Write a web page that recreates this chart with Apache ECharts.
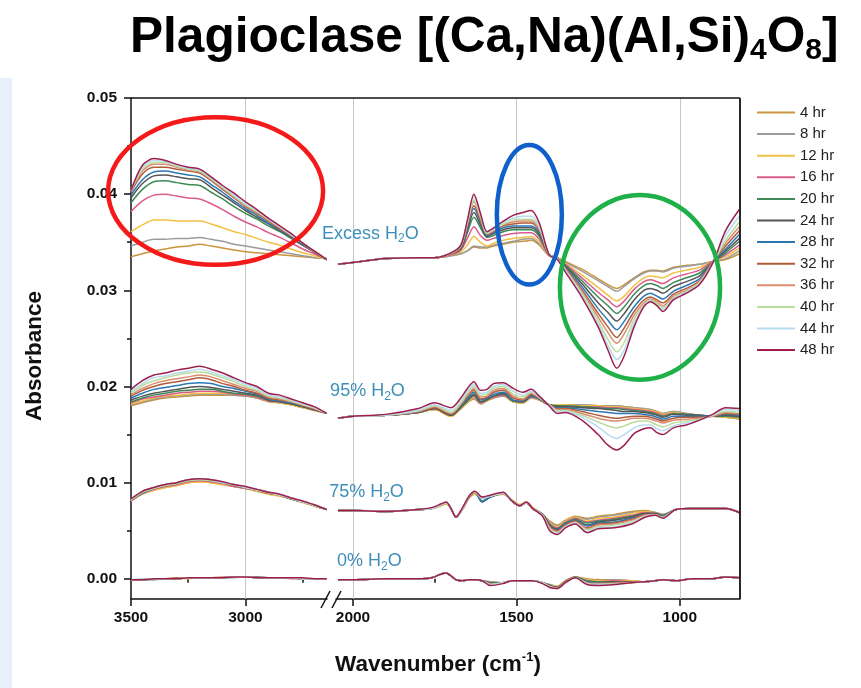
<!DOCTYPE html>
<html><head><meta charset="utf-8">
<script src="https://cdn.jsdelivr.net/npm/echarts@6/dist/echarts.min.js"></script>
<style>html,body{margin:0;padding:0;background:#fff}#c{width:861px;height:688px}</style>
</head><body><div id="c"></div>
<script>
// ---------- DATA ----------
const HOURS = ['4 hr','8 hr','12 hr','16 hr','20 hr','24 hr','28 hr','32 hr','36 hr','40 hr','44 hr','48 hr'];
const X_L = [3500,3450,3400,3350,3300,3250,3200,3150,3100,3050,3000,2950,2900,2850,2800,2750,2700,2645];
const X_R = [2046,2000,1900,1800,1750,1700,1670,1650,1630,1610,1590,1570,1540,1510,1480,1455,1430,1400,1375,1350,1300,1250,1220,1193,1170,1140,1110,1090,1070,1052,1020,980,940,900,860,818];
const X_R2 = [2046,2000,1900,1800,1760,1730,1715,1700,1685,1665,1645,1627,1605,1580,1541,1514,1490,1470,1450,1420,1398,1375,1350,1320,1284,1250,1200,1147,1107,1075,1052,1012,960,900,860,818];
const X_TICKS_L = [3500, 3000];
const X_MINOR_L = [3250, 2750];
const X_TICKS_R = [2000, 1500, 1000];
const X_MINOR_R = [1750, 1250];
const Y_TICKS = [0, 0.01, 0.02, 0.03, 0.04, 0.05];
const Y_MINOR = [0.005, 0.015, 0.025, 0.035, 0.045];
const GRIDLINES_L = [3000];
const GRIDLINES_R = [2000, 1500, 1000];

const EXCESS_L = [
[0.0335,0.0338,0.0341,0.0343,0.0345,0.0346,0.0348,0.0346,0.0344,0.0342,0.0340,0.0339,0.0338,0.0337,0.0336,0.0335,0.0334,0.0333],
[0.0346,0.0350,0.0353,0.0353,0.0354,0.0354,0.0355,0.0353,0.0351,0.0348,0.0346,0.0344,0.0342,0.0340,0.0338,0.0336,0.0334,0.0333],
[0.0361,0.0368,0.0373,0.0373,0.0372,0.0372,0.0372,0.0369,0.0365,0.0361,0.0358,0.0354,0.0350,0.0347,0.0343,0.0339,0.0336,0.0332],
[0.0382,0.0393,0.0399,0.0400,0.0398,0.0396,0.0395,0.0390,0.0384,0.0377,0.0371,0.0366,0.0360,0.0355,0.0349,0.0343,0.0338,0.0332],
[0.0391,0.0405,0.0413,0.0414,0.0412,0.0410,0.0409,0.0402,0.0395,0.0387,0.0380,0.0374,0.0367,0.0361,0.0354,0.0347,0.0340,0.0332],
[0.0396,0.0411,0.0419,0.0420,0.0418,0.0416,0.0415,0.0407,0.0399,0.0391,0.0383,0.0376,0.0369,0.0362,0.0355,0.0347,0.0340,0.0332],
[0.0399,0.0415,0.0423,0.0424,0.0422,0.0420,0.0418,0.0410,0.0402,0.0393,0.0385,0.0378,0.0370,0.0363,0.0356,0.0348,0.0340,0.0332],
[0.0402,0.0421,0.0428,0.0428,0.0426,0.0424,0.0422,0.0414,0.0405,0.0396,0.0387,0.0380,0.0372,0.0364,0.0357,0.0349,0.0340,0.0332],
[0.0403,0.0424,0.0431,0.0431,0.0428,0.0425,0.0423,0.0415,0.0406,0.0397,0.0388,0.0381,0.0373,0.0365,0.0357,0.0349,0.0341,0.0332],
[0.0404,0.0426,0.0433,0.0433,0.0429,0.0426,0.0424,0.0416,0.0407,0.0398,0.0389,0.0382,0.0374,0.0366,0.0358,0.0349,0.0341,0.0332],
[0.0404,0.0428,0.0435,0.0434,0.0430,0.0427,0.0425,0.0417,0.0408,0.0399,0.0390,0.0383,0.0374,0.0366,0.0358,0.0349,0.0341,0.0332],
[0.0404,0.0430,0.0437,0.0435,0.0431,0.0428,0.0426,0.0418,0.0409,0.0401,0.0392,0.0384,0.0375,0.0367,0.0359,0.0349,0.0341,0.0332]
];
const EXCESS_R = [
[0.0327,0.0329,0.0333,0.0334,0.0334,0.0336,0.0338,0.0341,0.0345,0.0344,0.0344,0.0346,0.0348,0.0350,0.0351,0.0352,0.0347,0.0336,0.0334,0.0330,0.0322,0.0312,0.0306,0.0302,0.0306,0.0313,0.0319,0.0321,0.0321,0.0320,0.0324,0.0326,0.0327,0.0330,0.0332,0.0338],
[0.0327,0.0329,0.0333,0.0334,0.0334,0.0336,0.0338,0.0341,0.0346,0.0345,0.0345,0.0347,0.0349,0.0351,0.0353,0.0354,0.0348,0.0336,0.0334,0.0329,0.0320,0.0310,0.0304,0.0299,0.0304,0.0312,0.0318,0.0320,0.0320,0.0319,0.0323,0.0325,0.0327,0.0330,0.0333,0.0341],
[0.0327,0.0329,0.0333,0.0334,0.0334,0.0337,0.0340,0.0347,0.0356,0.0350,0.0346,0.0349,0.0352,0.0354,0.0355,0.0356,0.0350,0.0336,0.0334,0.0328,0.0316,0.0303,0.0295,0.0289,0.0294,0.0305,0.0313,0.0315,0.0314,0.0313,0.0318,0.0321,0.0324,0.0330,0.0335,0.0344],
[0.0327,0.0329,0.0333,0.0334,0.0334,0.0337,0.0342,0.0354,0.0366,0.0357,0.0352,0.0354,0.0357,0.0359,0.0360,0.0360,0.0353,0.0336,0.0333,0.0327,0.0313,0.0298,0.0290,0.0283,0.0289,0.0301,0.0309,0.0311,0.0309,0.0307,0.0313,0.0317,0.0321,0.0330,0.0337,0.0347],
[0.0327,0.0329,0.0333,0.0334,0.0334,0.0338,0.0343,0.0360,0.0376,0.0365,0.0355,0.0357,0.0361,0.0363,0.0363,0.0363,0.0356,0.0337,0.0333,0.0326,0.0310,0.0293,0.0284,0.0276,0.0283,0.0296,0.0305,0.0307,0.0305,0.0302,0.0308,0.0313,0.0318,0.0329,0.0339,0.0351],
[0.0327,0.0329,0.0333,0.0334,0.0334,0.0338,0.0344,0.0363,0.0381,0.0368,0.0356,0.0359,0.0363,0.0365,0.0365,0.0365,0.0358,0.0337,0.0333,0.0325,0.0307,0.0287,0.0277,0.0268,0.0276,0.0290,0.0300,0.0302,0.0300,0.0297,0.0304,0.0309,0.0315,0.0329,0.0341,0.0354],
[0.0327,0.0329,0.0333,0.0334,0.0334,0.0338,0.0345,0.0366,0.0385,0.0371,0.0357,0.0360,0.0365,0.0367,0.0367,0.0367,0.0360,0.0337,0.0333,0.0324,0.0304,0.0281,0.0269,0.0259,0.0268,0.0283,0.0294,0.0297,0.0294,0.0291,0.0299,0.0305,0.0312,0.0329,0.0343,0.0358],
[0.0327,0.0329,0.0333,0.0334,0.0334,0.0338,0.0345,0.0368,0.0388,0.0373,0.0358,0.0361,0.0367,0.0369,0.0370,0.0370,0.0362,0.0337,0.0333,0.0323,0.0301,0.0276,0.0262,0.0251,0.0261,0.0278,0.0290,0.0293,0.0290,0.0287,0.0296,0.0302,0.0310,0.0329,0.0346,0.0362],
[0.0327,0.0329,0.0333,0.0334,0.0334,0.0338,0.0346,0.0369,0.0392,0.0375,0.0359,0.0362,0.0368,0.0371,0.0372,0.0372,0.0364,0.0337,0.0333,0.0322,0.0299,0.0272,0.0256,0.0245,0.0255,0.0274,0.0287,0.0291,0.0288,0.0284,0.0294,0.0300,0.0309,0.0329,0.0349,0.0366],
[0.0327,0.0329,0.0333,0.0334,0.0334,0.0339,0.0346,0.0370,0.0394,0.0377,0.0359,0.0363,0.0369,0.0373,0.0374,0.0374,0.0365,0.0337,0.0333,0.0321,0.0297,0.0268,0.0249,0.0236,0.0246,0.0270,0.0285,0.0290,0.0286,0.0282,0.0292,0.0299,0.0308,0.0328,0.0352,0.0371],
[0.0327,0.0329,0.0333,0.0334,0.0334,0.0339,0.0347,0.0372,0.0397,0.0379,0.0360,0.0364,0.0371,0.0375,0.0377,0.0377,0.0367,0.0337,0.0332,0.0320,0.0295,0.0265,0.0243,0.0228,0.0238,0.0266,0.0284,0.0289,0.0284,0.0280,0.0291,0.0298,0.0307,0.0328,0.0357,0.0377],
[0.0327,0.0329,0.0333,0.0334,0.0334,0.0339,0.0347,0.0373,0.0400,0.0380,0.0361,0.0365,0.0372,0.0378,0.0381,0.0383,0.0370,0.0337,0.0332,0.0319,0.0293,0.0262,0.0238,0.0219,0.0232,0.0262,0.0283,0.0288,0.0284,0.0278,0.0290,0.0297,0.0306,0.0328,0.0362,0.0384]
];
const P95_L = [
[0.0180,0.0183,0.0186,0.0188,0.0189,0.0190,0.0191,0.0191,0.0191,0.0191,0.0190,0.0188,0.0184,0.0183,0.0181,0.0178,0.0175,0.0172],
[0.0181,0.0184,0.0187,0.0189,0.0190,0.0191,0.0192,0.0192,0.0192,0.0191,0.0190,0.0188,0.0185,0.0183,0.0181,0.0178,0.0176,0.0172],
[0.0182,0.0185,0.0188,0.0190,0.0191,0.0192,0.0193,0.0193,0.0193,0.0192,0.0191,0.0189,0.0185,0.0183,0.0181,0.0178,0.0176,0.0172],
[0.0183,0.0187,0.0189,0.0191,0.0193,0.0194,0.0195,0.0195,0.0194,0.0192,0.0191,0.0189,0.0185,0.0184,0.0182,0.0179,0.0176,0.0172],
[0.0184,0.0188,0.0191,0.0193,0.0195,0.0196,0.0197,0.0197,0.0195,0.0193,0.0192,0.0190,0.0186,0.0184,0.0182,0.0179,0.0176,0.0172],
[0.0186,0.0190,0.0193,0.0195,0.0197,0.0199,0.0200,0.0199,0.0197,0.0195,0.0193,0.0191,0.0186,0.0184,0.0182,0.0179,0.0176,0.0172],
[0.0188,0.0193,0.0197,0.0199,0.0201,0.0203,0.0204,0.0203,0.0200,0.0198,0.0195,0.0192,0.0187,0.0185,0.0183,0.0180,0.0177,0.0172],
[0.0190,0.0196,0.0200,0.0203,0.0205,0.0207,0.0209,0.0207,0.0203,0.0200,0.0196,0.0193,0.0188,0.0186,0.0184,0.0180,0.0177,0.0172],
[0.0191,0.0198,0.0203,0.0206,0.0208,0.0210,0.0212,0.0210,0.0206,0.0202,0.0198,0.0195,0.0189,0.0187,0.0184,0.0181,0.0177,0.0172],
[0.0193,0.0201,0.0206,0.0209,0.0212,0.0214,0.0215,0.0213,0.0209,0.0205,0.0200,0.0196,0.0190,0.0188,0.0185,0.0181,0.0178,0.0172],
[0.0195,0.0203,0.0209,0.0211,0.0214,0.0216,0.0218,0.0215,0.0211,0.0207,0.0202,0.0198,0.0191,0.0189,0.0186,0.0182,0.0178,0.0172],
[0.0197,0.0206,0.0212,0.0214,0.0217,0.0219,0.0221,0.0218,0.0214,0.0209,0.0204,0.0200,0.0193,0.0191,0.0187,0.0183,0.0179,0.0172]
];
const P95_R = [
[0.0167,0.0169,0.0170,0.0173,0.0176,0.0169,0.0177,0.0183,0.0187,0.0182,0.0185,0.0188,0.0190,0.0184,0.0183,0.0188,0.0186,0.0181,0.0181,0.0181,0.0181,0.0180,0.0180,0.0180,0.0179,0.0178,0.0177,0.0176,0.0174,0.0172,0.0174,0.0172,0.0170,0.0169,0.0168,0.0166],
[0.0167,0.0169,0.0170,0.0173,0.0176,0.0169,0.0177,0.0184,0.0188,0.0182,0.0185,0.0188,0.0190,0.0184,0.0183,0.0188,0.0186,0.0181,0.0181,0.0181,0.0181,0.0180,0.0180,0.0180,0.0179,0.0178,0.0177,0.0176,0.0173,0.0172,0.0174,0.0172,0.0170,0.0169,0.0168,0.0167],
[0.0167,0.0169,0.0170,0.0173,0.0176,0.0169,0.0177,0.0184,0.0189,0.0183,0.0185,0.0189,0.0191,0.0184,0.0183,0.0189,0.0186,0.0181,0.0181,0.0181,0.0180,0.0180,0.0179,0.0179,0.0178,0.0177,0.0176,0.0175,0.0173,0.0171,0.0173,0.0171,0.0170,0.0169,0.0168,0.0167],
[0.0167,0.0169,0.0170,0.0173,0.0177,0.0170,0.0178,0.0185,0.0190,0.0183,0.0186,0.0189,0.0191,0.0185,0.0184,0.0189,0.0187,0.0181,0.0180,0.0180,0.0179,0.0179,0.0178,0.0178,0.0177,0.0176,0.0175,0.0174,0.0172,0.0170,0.0172,0.0171,0.0170,0.0169,0.0169,0.0168],
[0.0167,0.0169,0.0170,0.0173,0.0177,0.0170,0.0178,0.0185,0.0191,0.0184,0.0186,0.0190,0.0192,0.0185,0.0184,0.0190,0.0187,0.0181,0.0180,0.0180,0.0179,0.0178,0.0177,0.0177,0.0176,0.0175,0.0174,0.0173,0.0171,0.0169,0.0172,0.0171,0.0170,0.0169,0.0169,0.0168],
[0.0167,0.0169,0.0170,0.0173,0.0177,0.0170,0.0179,0.0186,0.0192,0.0184,0.0187,0.0190,0.0193,0.0185,0.0184,0.0190,0.0187,0.0181,0.0179,0.0179,0.0178,0.0177,0.0176,0.0175,0.0174,0.0174,0.0173,0.0172,0.0170,0.0168,0.0171,0.0170,0.0170,0.0169,0.0170,0.0169],
[0.0167,0.0169,0.0170,0.0174,0.0178,0.0171,0.0180,0.0188,0.0194,0.0186,0.0188,0.0192,0.0194,0.0186,0.0185,0.0191,0.0187,0.0181,0.0178,0.0178,0.0176,0.0174,0.0173,0.0172,0.0172,0.0172,0.0171,0.0170,0.0168,0.0166,0.0169,0.0169,0.0169,0.0169,0.0171,0.0170],
[0.0167,0.0169,0.0170,0.0174,0.0178,0.0171,0.0181,0.0190,0.0196,0.0187,0.0189,0.0194,0.0196,0.0188,0.0186,0.0192,0.0188,0.0181,0.0177,0.0177,0.0174,0.0170,0.0168,0.0167,0.0168,0.0169,0.0169,0.0168,0.0166,0.0164,0.0167,0.0168,0.0168,0.0169,0.0172,0.0171],
[0.0167,0.0169,0.0170,0.0174,0.0179,0.0172,0.0182,0.0191,0.0198,0.0189,0.0190,0.0196,0.0198,0.0190,0.0187,0.0193,0.0188,0.0181,0.0176,0.0176,0.0172,0.0167,0.0165,0.0164,0.0165,0.0167,0.0167,0.0166,0.0164,0.0162,0.0165,0.0166,0.0167,0.0169,0.0173,0.0172],
[0.0167,0.0169,0.0170,0.0175,0.0180,0.0173,0.0183,0.0193,0.0200,0.0191,0.0192,0.0198,0.0200,0.0192,0.0189,0.0194,0.0189,0.0181,0.0175,0.0175,0.0170,0.0163,0.0159,0.0157,0.0159,0.0163,0.0164,0.0163,0.0160,0.0158,0.0162,0.0164,0.0166,0.0170,0.0174,0.0173],
[0.0167,0.0169,0.0170,0.0175,0.0181,0.0175,0.0185,0.0195,0.0202,0.0193,0.0194,0.0200,0.0202,0.0195,0.0191,0.0195,0.0189,0.0181,0.0174,0.0174,0.0168,0.0158,0.0150,0.0146,0.0150,0.0157,0.0160,0.0160,0.0156,0.0154,0.0159,0.0162,0.0165,0.0170,0.0176,0.0175],
[0.0167,0.0169,0.0171,0.0177,0.0183,0.0178,0.0188,0.0198,0.0205,0.0196,0.0197,0.0203,0.0204,0.0198,0.0194,0.0197,0.0190,0.0180,0.0172,0.0173,0.0165,0.0150,0.0139,0.0134,0.0139,0.0151,0.0156,0.0157,0.0152,0.0150,0.0157,0.0160,0.0165,0.0171,0.0178,0.0177]
];
const P75_L = [
[0.0081,0.0088,0.0092,0.0095,0.0097,0.0100,0.0101,0.0100,0.0098,0.0096,0.0094,0.0091,0.0089,0.0086,0.0083,0.0080,0.0076,0.0072],
[0.0081,0.0089,0.0093,0.0096,0.0098,0.0101,0.0102,0.0101,0.0099,0.0096,0.0094,0.0092,0.0089,0.0087,0.0083,0.0080,0.0076,0.0072],
[0.0081,0.0088,0.0092,0.0095,0.0097,0.0100,0.0101,0.0100,0.0098,0.0096,0.0094,0.0091,0.0088,0.0086,0.0083,0.0079,0.0076,0.0072],
[0.0081,0.0089,0.0093,0.0096,0.0098,0.0101,0.0102,0.0101,0.0099,0.0096,0.0094,0.0092,0.0089,0.0087,0.0083,0.0080,0.0076,0.0072],
[0.0082,0.0090,0.0094,0.0097,0.0099,0.0102,0.0103,0.0102,0.0100,0.0097,0.0095,0.0092,0.0089,0.0087,0.0083,0.0080,0.0076,0.0072],
[0.0082,0.0090,0.0094,0.0097,0.0099,0.0102,0.0103,0.0102,0.0100,0.0097,0.0095,0.0092,0.0089,0.0087,0.0083,0.0080,0.0076,0.0072],
[0.0082,0.0089,0.0094,0.0097,0.0099,0.0102,0.0103,0.0102,0.0100,0.0097,0.0095,0.0092,0.0090,0.0087,0.0083,0.0080,0.0076,0.0072],
[0.0083,0.0091,0.0095,0.0098,0.0100,0.0103,0.0104,0.0103,0.0100,0.0098,0.0095,0.0093,0.0090,0.0087,0.0084,0.0080,0.0077,0.0072],
[0.0082,0.0090,0.0094,0.0097,0.0099,0.0102,0.0103,0.0102,0.0100,0.0097,0.0095,0.0092,0.0089,0.0087,0.0083,0.0080,0.0076,0.0072],
[0.0082,0.0090,0.0094,0.0097,0.0099,0.0102,0.0103,0.0102,0.0100,0.0098,0.0095,0.0092,0.0090,0.0087,0.0084,0.0080,0.0076,0.0072],
[0.0083,0.0091,0.0095,0.0098,0.0100,0.0103,0.0104,0.0103,0.0100,0.0098,0.0095,0.0093,0.0090,0.0087,0.0084,0.0080,0.0077,0.0072],
[0.0083,0.0091,0.0095,0.0098,0.0100,0.0103,0.0104,0.0103,0.0101,0.0098,0.0096,0.0093,0.0090,0.0088,0.0084,0.0081,0.0077,0.0072]
];
const P75_R = [
[0.0071,0.0071,0.0070,0.0072,0.0073,0.0076,0.0078,0.0073,0.0065,0.0072,0.0084,0.0088,0.0085,0.0086,0.0088,0.0082,0.0077,0.0080,0.0074,0.0067,0.0060,0.0056,0.0061,0.0065,0.0063,0.0065,0.0067,0.0070,0.0071,0.0069,0.0067,0.0072,0.0073,0.0073,0.0073,0.0069],
[0.0071,0.0071,0.0070,0.0072,0.0073,0.0077,0.0079,0.0073,0.0064,0.0073,0.0085,0.0089,0.0085,0.0086,0.0089,0.0081,0.0076,0.0079,0.0073,0.0067,0.0059,0.0055,0.0060,0.0064,0.0062,0.0064,0.0066,0.0069,0.0070,0.0069,0.0067,0.0072,0.0073,0.0073,0.0073,0.0069],
[0.0071,0.0071,0.0070,0.0072,0.0073,0.0076,0.0078,0.0073,0.0065,0.0072,0.0084,0.0088,0.0085,0.0086,0.0088,0.0082,0.0077,0.0080,0.0074,0.0067,0.0058,0.0054,0.0060,0.0064,0.0060,0.0063,0.0064,0.0068,0.0070,0.0068,0.0066,0.0072,0.0073,0.0073,0.0073,0.0069],
[0.0071,0.0071,0.0070,0.0072,0.0073,0.0077,0.0079,0.0073,0.0064,0.0073,0.0085,0.0090,0.0084,0.0086,0.0089,0.0081,0.0076,0.0079,0.0073,0.0067,0.0057,0.0053,0.0059,0.0063,0.0059,0.0061,0.0063,0.0066,0.0069,0.0068,0.0066,0.0072,0.0073,0.0073,0.0073,0.0069],
[0.0071,0.0071,0.0070,0.0072,0.0073,0.0077,0.0079,0.0073,0.0064,0.0073,0.0085,0.0090,0.0081,0.0085,0.0089,0.0081,0.0076,0.0079,0.0073,0.0067,0.0056,0.0052,0.0058,0.0062,0.0058,0.0060,0.0062,0.0065,0.0068,0.0068,0.0066,0.0072,0.0073,0.0073,0.0073,0.0069],
[0.0071,0.0071,0.0070,0.0072,0.0073,0.0077,0.0079,0.0073,0.0064,0.0073,0.0085,0.0090,0.0080,0.0085,0.0089,0.0081,0.0076,0.0079,0.0073,0.0067,0.0056,0.0052,0.0057,0.0061,0.0056,0.0059,0.0061,0.0064,0.0068,0.0068,0.0065,0.0072,0.0073,0.0073,0.0073,0.0069],
[0.0071,0.0071,0.0070,0.0072,0.0073,0.0077,0.0079,0.0073,0.0064,0.0073,0.0085,0.0090,0.0080,0.0085,0.0089,0.0081,0.0076,0.0079,0.0073,0.0066,0.0055,0.0051,0.0057,0.0061,0.0055,0.0058,0.0059,0.0063,0.0067,0.0067,0.0065,0.0072,0.0073,0.0073,0.0073,0.0069],
[0.0071,0.0071,0.0070,0.0072,0.0073,0.0077,0.0079,0.0073,0.0064,0.0073,0.0086,0.0090,0.0084,0.0086,0.0089,0.0081,0.0076,0.0079,0.0073,0.0066,0.0054,0.0050,0.0056,0.0060,0.0053,0.0057,0.0058,0.0062,0.0067,0.0067,0.0064,0.0072,0.0073,0.0073,0.0073,0.0069],
[0.0071,0.0071,0.0070,0.0072,0.0073,0.0077,0.0079,0.0073,0.0064,0.0073,0.0085,0.0090,0.0084,0.0086,0.0089,0.0081,0.0076,0.0079,0.0073,0.0066,0.0053,0.0049,0.0055,0.0059,0.0052,0.0056,0.0057,0.0061,0.0066,0.0067,0.0064,0.0072,0.0073,0.0073,0.0073,0.0069],
[0.0071,0.0071,0.0070,0.0072,0.0073,0.0077,0.0079,0.0073,0.0064,0.0073,0.0086,0.0090,0.0084,0.0086,0.0089,0.0081,0.0076,0.0079,0.0073,0.0066,0.0052,0.0048,0.0054,0.0058,0.0051,0.0054,0.0056,0.0059,0.0065,0.0066,0.0064,0.0072,0.0073,0.0073,0.0073,0.0069],
[0.0071,0.0071,0.0070,0.0072,0.0073,0.0077,0.0079,0.0073,0.0064,0.0073,0.0086,0.0091,0.0084,0.0086,0.0089,0.0081,0.0076,0.0079,0.0073,0.0066,0.0051,0.0047,0.0054,0.0058,0.0049,0.0053,0.0054,0.0058,0.0065,0.0066,0.0063,0.0072,0.0073,0.0073,0.0073,0.0069],
[0.0071,0.0071,0.0070,0.0072,0.0074,0.0078,0.0080,0.0073,0.0064,0.0074,0.0086,0.0091,0.0085,0.0087,0.0090,0.0081,0.0076,0.0080,0.0073,0.0065,0.0050,0.0046,0.0053,0.0057,0.0048,0.0052,0.0053,0.0057,0.0064,0.0066,0.0063,0.0072,0.0073,0.0073,0.0073,0.0069]
];
const P0_L = [
[-0.0001,-0.0001,0.0000,0.0000,0.0000,0.0001,0.0001,0.0001,0.0001,0.0002,0.0002,0.0001,0.0001,0.0001,0.0001,0.0000,0.0000,0.0000],
[-0.0001,-0.0001,0.0000,0.0000,0.0000,0.0001,0.0001,0.0001,0.0001,0.0001,0.0002,0.0001,0.0001,0.0001,0.0001,0.0000,0.0000,0.0000],
[-0.0001,-0.0001,0.0000,0.0000,0.0000,0.0000,0.0001,0.0001,0.0001,0.0002,0.0002,0.0001,0.0001,0.0001,0.0001,0.0000,0.0000,0.0000],
[-0.0001,-0.0001,0.0000,0.0000,0.0000,0.0001,0.0001,0.0001,0.0001,0.0002,0.0002,0.0001,0.0001,0.0001,0.0000,0.0000,0.0000,0.0000],
[-0.0001,-0.0001,-0.0001,0.0000,0.0000,0.0001,0.0001,0.0001,0.0001,0.0002,0.0002,0.0001,0.0001,0.0001,0.0001,0.0000,0.0000,0.0000],
[-0.0001,-0.0001,0.0000,0.0000,0.0000,0.0001,0.0001,0.0001,0.0001,0.0002,0.0002,0.0002,0.0001,0.0001,0.0001,0.0000,0.0000,0.0000],
[-0.0001,-0.0001,0.0000,0.0000,0.0000,0.0001,0.0001,0.0001,0.0001,0.0002,0.0002,0.0001,0.0001,0.0001,0.0001,0.0000,0.0000,0.0000],
[-0.0001,-0.0001,0.0000,0.0000,0.0001,0.0001,0.0001,0.0001,0.0001,0.0002,0.0002,0.0001,0.0001,0.0001,0.0001,0.0000,0.0000,0.0000],
[-0.0001,-0.0001,0.0000,0.0000,0.0000,0.0001,0.0001,0.0001,0.0002,0.0002,0.0002,0.0001,0.0001,0.0001,0.0001,0.0000,0.0000,0.0000],
[-0.0001,-0.0001,0.0000,0.0000,0.0000,0.0001,0.0001,0.0001,0.0001,0.0002,0.0002,0.0001,0.0001,0.0001,0.0001,0.0000,0.0000,0.0000],
[-0.0001,0.0000,0.0000,0.0000,0.0000,0.0001,0.0001,0.0001,0.0001,0.0002,0.0002,0.0001,0.0001,0.0001,0.0001,0.0000,0.0000,0.0000],
[-0.0001,-0.0001,0.0000,0.0000,0.0000,0.0001,0.0001,0.0001,0.0001,0.0002,0.0002,0.0001,0.0001,0.0001,0.0001,0.0001,0.0000,0.0000]
];
const P0_R = [
[-0.0001,-0.0001,0.0000,0.0000,0.0001,0.0005,0.0006,0.0003,-0.0001,-0.0002,-0.0001,-0.0001,-0.0002,-0.0003,-0.0004,-0.0002,-0.0002,-0.0002,-0.0002,-0.0004,-0.0006,-0.0008,-0.0002,0.0002,0.0000,-0.0001,-0.0001,-0.0002,-0.0003,-0.0002,-0.0001,-0.0002,0.0000,0.0000,0.0002,0.0001],
[-0.0001,-0.0001,0.0000,0.0000,0.0001,0.0005,0.0006,0.0003,-0.0001,-0.0002,-0.0001,-0.0001,-0.0002,-0.0003,-0.0004,-0.0002,-0.0002,-0.0002,-0.0002,-0.0004,-0.0006,-0.0008,-0.0002,0.0002,-0.0001,-0.0002,-0.0001,-0.0002,-0.0003,-0.0002,-0.0001,-0.0002,0.0000,0.0000,0.0002,0.0001],
[-0.0001,-0.0001,0.0000,0.0000,0.0001,0.0005,0.0006,0.0003,-0.0001,-0.0002,-0.0001,-0.0001,-0.0002,-0.0004,-0.0004,-0.0002,-0.0002,-0.0002,-0.0002,-0.0004,-0.0007,-0.0008,-0.0002,0.0002,-0.0001,-0.0002,-0.0002,-0.0002,-0.0003,-0.0002,-0.0001,-0.0002,0.0000,0.0000,0.0002,0.0001],
[-0.0001,-0.0001,0.0000,0.0000,0.0001,0.0005,0.0006,0.0003,-0.0001,-0.0002,-0.0001,-0.0001,-0.0002,-0.0004,-0.0004,-0.0002,-0.0002,-0.0002,-0.0002,-0.0004,-0.0007,-0.0009,-0.0003,0.0002,-0.0002,-0.0003,-0.0002,-0.0003,-0.0003,-0.0002,-0.0001,-0.0002,0.0000,0.0000,0.0002,0.0001],
[-0.0001,-0.0001,0.0000,0.0000,0.0001,0.0005,0.0006,0.0003,-0.0001,-0.0002,-0.0001,-0.0001,-0.0002,-0.0004,-0.0004,-0.0002,-0.0002,-0.0002,-0.0002,-0.0004,-0.0007,-0.0009,-0.0003,0.0002,-0.0002,-0.0003,-0.0003,-0.0003,-0.0003,-0.0002,-0.0001,-0.0002,0.0000,0.0000,0.0002,0.0001],
[-0.0001,-0.0001,0.0000,0.0000,0.0001,0.0005,0.0006,0.0003,-0.0001,-0.0002,-0.0001,-0.0001,-0.0002,-0.0005,-0.0004,-0.0002,-0.0002,-0.0002,-0.0002,-0.0004,-0.0007,-0.0009,-0.0003,0.0001,-0.0003,-0.0004,-0.0003,-0.0003,-0.0003,-0.0002,-0.0001,-0.0002,0.0000,0.0000,0.0002,0.0001],
[-0.0001,-0.0001,0.0000,0.0000,0.0001,0.0005,0.0006,0.0003,-0.0001,-0.0002,-0.0001,-0.0001,-0.0002,-0.0005,-0.0004,-0.0002,-0.0002,-0.0002,-0.0002,-0.0004,-0.0008,-0.0009,-0.0003,0.0001,-0.0003,-0.0004,-0.0004,-0.0003,-0.0003,-0.0002,-0.0001,-0.0002,0.0000,0.0000,0.0002,0.0001],
[-0.0001,-0.0001,0.0000,0.0000,0.0001,0.0005,0.0006,0.0003,-0.0001,-0.0002,-0.0001,-0.0001,-0.0002,-0.0005,-0.0004,-0.0002,-0.0002,-0.0002,-0.0002,-0.0004,-0.0008,-0.0009,-0.0003,0.0001,-0.0004,-0.0005,-0.0004,-0.0003,-0.0003,-0.0002,-0.0001,-0.0002,0.0000,0.0000,0.0002,0.0001],
[-0.0001,-0.0001,0.0000,0.0000,0.0001,0.0005,0.0006,0.0003,-0.0001,-0.0002,-0.0001,-0.0001,-0.0002,-0.0006,-0.0004,-0.0002,-0.0002,-0.0002,-0.0002,-0.0004,-0.0008,-0.0010,-0.0004,0.0001,-0.0004,-0.0005,-0.0005,-0.0004,-0.0003,-0.0002,-0.0001,-0.0002,0.0000,0.0000,0.0002,0.0001],
[-0.0001,-0.0001,0.0000,0.0000,0.0001,0.0005,0.0006,0.0003,-0.0001,-0.0002,-0.0001,-0.0001,-0.0002,-0.0006,-0.0004,-0.0002,-0.0002,-0.0002,-0.0002,-0.0004,-0.0008,-0.0010,-0.0004,0.0001,-0.0005,-0.0006,-0.0005,-0.0004,-0.0003,-0.0002,-0.0001,-0.0002,0.0000,0.0000,0.0002,0.0001],
[-0.0001,-0.0001,0.0000,0.0000,0.0001,0.0005,0.0006,0.0003,-0.0001,-0.0002,-0.0001,-0.0001,-0.0002,-0.0006,-0.0004,-0.0002,-0.0002,-0.0002,-0.0002,-0.0004,-0.0009,-0.0010,-0.0004,0.0001,-0.0005,-0.0006,-0.0006,-0.0004,-0.0003,-0.0002,-0.0001,-0.0002,0.0000,0.0000,0.0002,0.0001],
[-0.0001,-0.0001,0.0000,0.0000,0.0001,0.0005,0.0006,0.0003,-0.0001,-0.0002,-0.0001,-0.0001,-0.0002,-0.0007,-0.0005,-0.0002,-0.0002,-0.0002,-0.0002,-0.0005,-0.0009,-0.0010,-0.0004,0.0001,-0.0006,-0.0007,-0.0006,-0.0004,-0.0003,-0.0002,-0.0001,-0.0002,0.0000,0.0000,0.0002,0.0001]
];

// ---------- STYLE / LAYOUT ----------
const COLORS = ['#c9953e','#9b9b9b','#f2c043','#dc5b8c','#3e8a57','#555555','#2b79b4','#b05b3b','#da8c6e','#b9dd9c','#b7dbee','#9e1f4e'];
const FONT = '"Liberation Sans", Arial, Helvetica, sans-serif';
const GL = {left:131, top:98, width:196, height:501};
const GR = {left:336, top:98, width:404, height:501};
const YMIN = -0.0021, YMAX = 0.05;
const LABEL_COLOR = '#3d8fb8';

function mkSeries(xs, rows, axis) {
  return rows.map((ys, i) => ({
    type: 'line', name: HOURS[i], xAxisIndex: axis, yAxisIndex: axis,
    data: xs.map((x, k) => [x, ys[k]]),
    symbol: 'none', showSymbol: false, smooth: 0.3,
    lineStyle: {width: 1.5, color: COLORS[i]}, itemStyle: {color: COLORS[i]},
    silent: true, animation: false, z: 3
  }));
}

const series = [].concat(
  mkSeries(X_L, EXCESS_L, 0), mkSeries(X_R, EXCESS_R, 1),
  mkSeries(X_L, P95_L, 0), mkSeries(X_R, P95_R, 1),
  mkSeries(X_L, P75_L, 0), mkSeries(X_R2, P75_R, 1),
  mkSeries(X_L, P0_L, 0), mkSeries(X_R2, P0_R, 1)
);
// vertical gridlines
const gl = {silent: true, symbol: ['none','none'], label: {show: false}, z: 1,
  lineStyle: {color: '#c6c6c6', width: 1, type: 'solid'}, emphasis: {disabled: true}};
series[0].markLine = Object.assign({data: GRIDLINES_L.map(v => ({xAxis: v}))}, gl);
series[12].markLine = Object.assign({data: GRIDLINES_R.map(v => ({xAxis: v}))}, gl);

const axLine = {show: true, onZero: false, lineStyle: {color: '#111', width: 1.5}};
const tickLbl = {fontFamily: FONT, fontWeight: 'bold', fontSize: 15.5, color: '#111'};
const plain = v => String(v);

const option = {
  backgroundColor: '#fff',
  animation: false,
  grid: [Object.assign({containLabel: false}, GL), Object.assign({containLabel: false}, GR)],
  xAxis: [
    {type: 'value', gridIndex: 0, min: 2644, max: 3500, inverse: true, position: 'bottom',
     axisLine: axLine, splitLine: {show: false},
     axisTick: {show: true, customValues: X_TICKS_L, length: 7, lineStyle: {color: '#111', width: 1.5}},
     axisLabel: Object.assign({customValues: X_TICKS_L, margin: 11, formatter: plain}, tickLbl)},
    {type: 'value', gridIndex: 1, min: 816, max: 2052, inverse: true, position: 'bottom',
     axisLine: axLine, splitLine: {show: false},
     axisTick: {show: true, customValues: X_TICKS_R, length: 7, lineStyle: {color: '#111', width: 1.5}},
     axisLabel: Object.assign({customValues: X_TICKS_R, margin: 11, formatter: plain}, tickLbl)},
    {type: 'value', gridIndex: 0, min: 2644, max: 3500, inverse: true, position: 'bottom',
     axisLine: {show: false}, splitLine: {show: false}, axisLabel: {show: false},
     axisTick: {show: true, customValues: X_MINOR_L, length: 4, lineStyle: {color: '#111', width: 1.5}}},
    {type: 'value', gridIndex: 1, min: 816, max: 2052, inverse: true, position: 'bottom',
     axisLine: {show: false}, splitLine: {show: false}, axisLabel: {show: false},
     axisTick: {show: true, customValues: X_MINOR_R, length: 4, lineStyle: {color: '#111', width: 1.5}}}
  ],
  yAxis: [
    {type: 'value', gridIndex: 0, min: YMIN, max: YMAX, position: 'left',
     axisLine: axLine, splitLine: {show: false},
     axisTick: {show: true, customValues: Y_TICKS, length: 7, lineStyle: {color: '#111', width: 1.5}},
     axisLabel: Object.assign({customValues: Y_TICKS, margin: 14, formatter: v => v.toFixed(2)}, tickLbl)},
    {type: 'value', gridIndex: 1, min: YMIN, max: YMAX, show: false},
    {type: 'value', gridIndex: 0, min: YMIN, max: YMAX, position: 'left',
     axisLine: {show: false}, splitLine: {show: false}, axisLabel: {show: false},
     axisTick: {show: true, customValues: Y_MINOR, length: 4, lineStyle: {color: '#111', width: 1.5}}}
  ],
  legend: {
    data: HOURS.map(h => ({name: h, icon: 'rect'})), orient: 'vertical', left: 752, top: 100,
    itemWidth: 38, itemHeight: 2, itemGap: 6.6,
    textStyle: {fontFamily: FONT, fontSize: 15, color: '#222', lineHeight: 14, height: 14},
    selectedMode: false
  },
  series: series
};

const chart = echarts.init(document.getElementById('c'));
chart.setOption(option);

// ---------- ANNOTATIONS (positioned through the axes) ----------
const P = (side, x, y) => chart.convertToPixel(side === 0 ? {xAxisIndex: 0, yAxisIndex: 0} : {xAxisIndex: 1, yAxisIndex: 1}, [x, y]);
const right = GR.left + GR.width, bottom = GL.top + GL.height;

function ellipse(side, x1, x2, y1, y2, color) {
  const a = P(side, x1, y1), b = P(side, x2, y2);
  return {type: 'ellipse', z: 100, silent: true,
    shape: {cx: (a[0] + b[0]) / 2, cy: (a[1] + b[1]) / 2, rx: Math.abs(b[0] - a[0]) / 2, ry: Math.abs(b[1] - a[1]) / 2},
    style: {fill: 'none', stroke: color, lineWidth: 4.5}};
}
function groupLabel(name, x, y) {
  const p = P(1, x, y);
  return {type: 'text', x: p[0], y: p[1], z: 50, silent: true,
    style: {text: '{t|' + name + ' H}{s|2}{t|O}', align: 'left', verticalAlign: 'middle',
      rich: {t: {fontFamily: FONT, fontSize: 18, fill: LABEL_COLOR, lineHeight: 22},
             s: {fontFamily: FONT, fontSize: 12, fill: LABEL_COLOR, lineHeight: 12, verticalAlign: 'bottom'}}}};
}

const graphics = [
  {type: 'rect', shape: {x: 0, y: 78, width: 12, height: 610}, style: {fill: '#e6effa'}, z: 0, silent: true},
  {type: 'line', shape: {x1: GL.left, y1: GL.top, x2: right, y2: GL.top}, style: {stroke: '#111', lineWidth: 1.5}, z: 60},
  {type: 'line', shape: {x1: right, y1: GL.top, x2: right, y2: bottom}, style: {stroke: '#111', lineWidth: 1.8}, z: 60},
  {type: 'line', shape: {x1: 321, y1: 608, x2: 330, y2: 591}, style: {stroke: '#111', lineWidth: 1.5}, z: 60},
  {type: 'line', shape: {x1: 332, y1: 608, x2: 341, y2: 591}, style: {stroke: '#111', lineWidth: 1.5}, z: 60},
  {type: 'text', x: 130, y: 10, z: 60, silent: true,
   style: {text: '{m|Plagioclase [(Ca,Na)(Al,Si)}{s|4}{m|O}{s|8}{m|]}', align: 'left', verticalAlign: 'top',
     rich: {m: {fontFamily: FONT, fontWeight: 'bold', fontSize: 49.6, fill: '#000', lineHeight: 56},
            s: {fontFamily: FONT, fontWeight: 'bold', fontSize: 30, fill: '#000', lineHeight: 30, verticalAlign: 'bottom'}}}},
  {type: 'text', x: 438, y: 665, z: 60, silent: true,
   style: {text: '{a|Wavenumber (cm}{p|-1}{a|)}', align: 'center', verticalAlign: 'middle',
     rich: {a: {fontFamily: FONT, fontWeight: 'bold', fontSize: 22.5, fill: '#111', lineHeight: 28},
            p: {fontFamily: FONT, fontWeight: 'bold', fontSize: 13, fill: '#111', lineHeight: 14, verticalAlign: 'top'}}}},
  {type: 'text', x: 35, y: 356, rotation: Math.PI / 2, z: 60, silent: true,
   style: {text: 'Absorbance', align: 'center', verticalAlign: 'middle',
     fontFamily: FONT, fontWeight: 'bold', fontSize: 22.5, fill: '#111'}},
  groupLabel('Excess', 2095, 0.0359),
  groupLabel('95%', 2070, 0.0195),
  groupLabel('75%', 2073, 0.0090),
  groupLabel('0%', 2049, 0.0018),
  ellipse(0, 3600, 2661, 0.0480, 0.03265, '#f41a1a'),
  ellipse(1, 1560, 1361, 0.0451, 0.0306, '#1060cc'),
  ellipse(1, 1367, 877, 0.0399, 0.0207, '#1fb04a')
];
chart.setOption({graphic: graphics});
</script>
</body></html>
